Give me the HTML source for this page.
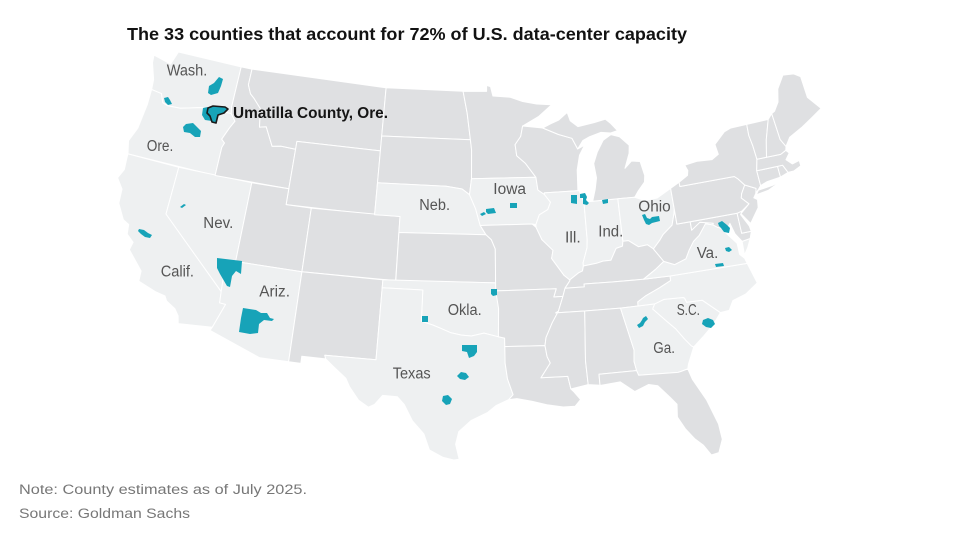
<!DOCTYPE html>
<html><head><meta charset="utf-8"><style>
html,body{margin:0;padding:0;background:#fff;}
svg{display:block;}
text{font-family:"Liberation Sans",Arial,sans-serif;}
</style></head><body>
<svg id="m" width="963" height="540" viewBox="0 0 963 540" xmlns="http://www.w3.org/2000/svg">
<rect width="963" height="540" fill="#fff"/>
<g id="st" stroke="#ffffff" stroke-width="1" stroke-linejoin="round"></g>
<g id="cty" fill="#17a3b8">
<polygon points="219,77 223,79 221,86 218,93 211,95 208,93 209,86 214,83"/>
<polygon points="164,98 168,97 170,100 172,104 168,105 165,102"/>
<polygon points="203,108 208,107 207,113 210,116 212,121 205,120 202,115"/>
<polygon points="186,124 193,123 197,127 201,131 200,137 195,137 190,133 184,132 183,127"/>
<polygon points="180,207 184,204 186,205 182,208"/>
<polygon points="139,229 144,230 148,233 152,235 150,238 145,237 141,234 138,231"/>
<polygon points="217,258 242,261 241,274 236,271 232,276 230,287 227,286 220,274 217,268"/>
<polygon points="243,308 256,310 261,313 267,313 270,318 274,319 272,321 264,320 259,324 258,333 250,334 239,332 241,318"/>
<polygon points="422,316 428,316 428,322 422,322"/>
<polygon points="491,289 497,289 497,295 493,296 491,294"/>
<polygon points="462,345 477,345 477,352 474,356 469,358 467,352 462,351"/>
<polygon points="457,376 461,372 466,373 469,377 465,380 460,379"/>
<polygon points="443,396 448,395 452,399 450,404 446,405 442,401"/>
<polygon points="480,214 484,212 486,214 482,216"/>
<polygon points="486,209 494,208 496,213 488,214 486,212"/>
<polygon points="510,203 517,203 517,208 510,208"/>
<polygon points="571,195 577,195 577,204 571,203"/>
<polygon points="580,194 585,193 587,197 586,200 589,203 587,205 583,204 583,198 580,198"/>
<polygon points="602,200 608,199 608,203 603,204"/>
<polygon points="642,215 645,214 647,218 650,219 652,217 659,216 660,221 652,223 649,225 646,224 644,220"/>
<polygon points="718,223 722,221 727,225 730,228 729,233 724,232 721,228 719,226"/>
<polygon points="725,248 729,247 732,250 729,252 726,251"/>
<polygon points="715,264 723,263 724,266 716,267"/>
<polygon points="643,318 646,316 648,319 645,322 643,326 639,328 637,325 640,323 642,320"/>
<polygon points="703,320 708,318 713,320 715,324 711,328 706,327 702,324"/>
<polygon points="208,108 213,106 225,107 228,109 224,113 218,115 216,123 212,122 210,116 207,113" stroke="#1a1a1a" stroke-width="1.6" stroke-linejoin="round"/>
</g>
<g fill="#555" font-size="15.5">
<text x="166.7" y="75.7" textLength="40.6" lengthAdjust="spacingAndGlyphs">Wash.</text>
<text x="146.7" y="151" textLength="26.6" lengthAdjust="spacingAndGlyphs">Ore.</text>
<text x="203.3" y="228" textLength="30" lengthAdjust="spacingAndGlyphs">Nev.</text>
<text x="160.7" y="276.5" textLength="33.3" lengthAdjust="spacingAndGlyphs">Calif.</text>
<text x="259.3" y="296.5" textLength="30.7" lengthAdjust="spacingAndGlyphs">Ariz.</text>
<text x="419.3" y="210" textLength="30.7" lengthAdjust="spacingAndGlyphs">Neb.</text>
<text x="493.3" y="194" textLength="32.7" lengthAdjust="spacingAndGlyphs">Iowa</text>
<text x="565" y="242.5" textLength="15.7" lengthAdjust="spacingAndGlyphs">Ill.</text>
<text x="598.3" y="236.5" textLength="25" lengthAdjust="spacingAndGlyphs">Ind.</text>
<text x="638.3" y="211.5" textLength="32.4" lengthAdjust="spacingAndGlyphs">Ohio</text>
<text x="696.7" y="258" textLength="21.6" lengthAdjust="spacingAndGlyphs">Va.</text>
<text x="447.7" y="315" textLength="34" lengthAdjust="spacingAndGlyphs">Okla.</text>
<text x="392.7" y="378.5" textLength="38" lengthAdjust="spacingAndGlyphs">Texas</text>
<text x="676.7" y="315" textLength="23.3" lengthAdjust="spacingAndGlyphs">S.C.</text>
<text x="653.3" y="353" textLength="21.7" lengthAdjust="spacingAndGlyphs">Ga.</text>
</g>
<text x="233" y="118" font-size="16" font-weight="bold" fill="#151515" textLength="155" lengthAdjust="spacingAndGlyphs">Umatilla County, Ore.</text>
<text x="127" y="40" font-size="17.5" font-weight="bold" fill="#121212" textLength="560" lengthAdjust="spacingAndGlyphs">The 33 counties that account for 72% of U.S. data-center capacity</text>
<text x="19" y="494" font-size="13.5" fill="#777" textLength="288" lengthAdjust="spacingAndGlyphs">Note: County estimates as of July 2025.</text>
<text x="19" y="518" font-size="13.5" fill="#777" textLength="171" lengthAdjust="spacingAndGlyphs">Source: Goldman Sachs</text>
</svg>
<script>
(function(){
var S={
WA:[[[-124.73,48.38],[-123.1,48.12],[-122.75,48.99],[-117.03,49.0],[-117.03,46.43],[-116.92,45.99],[-118.98,46.0],[-119.6,45.93],[-121.2,45.6],[-122.3,45.55],[-122.76,45.65],[-123.1,46.18],[-124.0,46.26],[-124.1,46.9],[-124.65,47.9]]],
OR:[[[-124.0,46.26],[-123.1,46.18],[-122.76,45.65],[-122.3,45.55],[-121.2,45.6],[-119.6,45.93],[-118.98,46.0],[-116.92,45.99],[-116.47,45.57],[-116.78,45.1],[-117.2,44.3],[-116.9,44.1],[-117.03,43.8],[-117.03,42.0],[-124.21,42.0],[-124.5,42.8],[-124.1,43.7],[-123.95,45.3]]],
CA:[[[-124.21,42.0],[-120.0,42.0],[-120.0,39.0],[-114.63,35.0],[-114.57,34.3],[-114.13,34.27],[-114.72,32.72],[-117.12,32.53],[-117.25,33.0],[-117.6,33.4],[-118.3,33.75],[-118.5,34.03],[-119.2,34.15],[-120.6,34.55],[-120.64,35.2],[-121.9,36.3],[-121.8,36.8],[-122.4,37.2],[-122.5,37.8],[-123.0,38.0],[-123.7,38.9],[-123.8,39.8],[-124.4,40.4],[-124.1,41.0],[-124.2,41.8]]],
NV:[[[-120.0,42.0],[-114.04,42.0],[-114.04,36.2],[-114.7,36.1],[-114.63,35.0],[-120.0,39.0]]],
ID:[[[-117.03,49.0],[-116.05,49.0],[-116.05,47.98],[-115.7,47.45],[-115.3,47.2],[-114.6,46.65],[-114.35,45.5],[-113.8,45.6],[-113.0,44.45],[-112.3,44.55],[-111.05,44.5],[-111.05,42.0],[-117.03,42.0],[-117.03,43.8],[-116.9,44.1],[-117.2,44.3],[-116.78,45.1],[-116.47,45.57],[-116.92,45.99],[-117.03,46.43]]],
MT:[[[-116.05,49.0],[-104.05,49.0],[-104.05,45.0],[-111.05,45.0],[-111.05,44.5],[-112.3,44.55],[-113.0,44.45],[-113.8,45.6],[-114.35,45.5],[-114.6,46.65],[-115.3,47.2],[-115.7,47.45],[-116.05,47.98]]],
WY:[[[-111.05,45.0],[-104.05,45.0],[-104.05,41.0],[-111.05,41.0]]],
UT:[[[-114.04,42.0],[-111.05,42.0],[-111.05,41.0],[-109.05,41.0],[-109.05,37.0],[-114.04,37.0]]],
AZ:[[[-114.04,37.0],[-109.05,37.0],[-109.05,31.33],[-111.07,31.33],[-114.82,32.5],[-114.72,32.72],[-114.13,34.27],[-114.57,34.3],[-114.63,35.0],[-114.7,36.1],[-114.04,36.2]]],
CO:[[[-109.05,41.0],[-102.05,41.0],[-102.05,37.0],[-109.05,37.0]]],
NM:[[[-109.05,37.0],[-103.0,37.0],[-103.0,36.5],[-103.04,32.0],[-106.62,32.0],[-106.53,31.78],[-108.2,31.78],[-108.2,31.33],[-109.05,31.33]]],
ND:[[[-104.05,49.0],[-97.23,49.0],[-96.85,47.6],[-96.56,45.94],[-104.05,45.94]]],
SD:[[[-104.05,45.94],[-96.56,45.94],[-96.45,45.3],[-96.45,43.5],[-96.6,42.5],[-97.2,42.85],[-98.5,43.0],[-104.05,43.0]]],
NE:[[[-104.05,43.0],[-98.5,43.0],[-97.2,42.85],[-96.6,42.5],[-96.1,41.6],[-95.9,41.0],[-95.75,40.58],[-95.3,40.0],[-102.05,40.0],[-102.05,41.0],[-104.05,41.0]]],
KS:[[[-102.05,40.0],[-95.3,40.0],[-94.9,39.7],[-94.6,39.1],[-94.62,37.0],[-102.04,37.0]]],
OK:[[[-103.0,37.0],[-94.62,37.0],[-94.43,35.4],[-94.48,33.64],[-95.5,33.88],[-96.4,33.7],[-97.1,33.75],[-97.9,33.9],[-98.6,34.15],[-99.2,34.35],[-99.8,34.5],[-100.0,34.56],[-100.0,36.5],[-103.0,36.5]]],
TX:[[[-106.62,32.0],[-103.04,32.0],[-103.0,36.5],[-100.0,36.5],[-100.0,34.56],[-99.8,34.5],[-99.2,34.35],[-98.6,34.15],[-97.9,33.9],[-97.1,33.75],[-96.4,33.7],[-95.5,33.88],[-94.48,33.64],[-94.04,33.55],[-94.04,32.0],[-93.9,31.0],[-93.55,30.0],[-93.85,29.7],[-94.7,29.35],[-95.3,28.9],[-96.4,28.4],[-97.2,27.7],[-97.4,26.9],[-97.15,25.95],[-97.5,25.9],[-98.2,26.05],[-99.1,26.5],[-99.5,27.5],[-100.3,28.3],[-100.9,29.3],[-101.4,29.77],[-102.4,29.8],[-102.9,29.2],[-103.3,29.0],[-104.0,29.4],[-104.7,30.2],[-105.0,30.7],[-106.0,31.4],[-106.53,31.78]]],
MN:[[[-97.23,49.0],[-95.15,49.0],[-95.15,49.38],[-94.8,49.3],[-94.6,48.7],[-93.1,48.6],[-92.0,48.3],[-90.8,48.1],[-89.5,48.0],[-90.7,47.3],[-92.1,46.75],[-92.3,46.1],[-92.8,45.6],[-92.7,44.9],[-92.0,44.4],[-91.2,43.5],[-96.45,43.5],[-96.45,45.3],[-96.56,45.94],[-96.85,47.6]]],
IA:[[[-96.45,43.5],[-91.2,43.5],[-91.1,42.7],[-90.6,42.4],[-90.15,41.9],[-90.4,41.45],[-91.1,41.15],[-91.4,40.55],[-91.7,40.6],[-95.75,40.58],[-95.9,41.0],[-96.1,41.6],[-96.6,42.5]]],
MO:[[[-95.75,40.58],[-91.7,40.6],[-91.4,40.38],[-91.0,39.6],[-90.2,38.9],[-90.35,38.4],[-89.5,37.3],[-89.1,37.0],[-89.1,36.95],[-89.5,36.5],[-89.7,36.0],[-90.37,36.0],[-90.15,36.5],[-94.62,36.5],[-94.62,37.0],[-94.6,39.1],[-94.9,39.7],[-95.3,40.0]]],
AR:[[[-94.62,36.5],[-90.15,36.5],[-90.37,36.0],[-89.7,36.0],[-90.1,35.1],[-90.6,34.4],[-91.1,33.5],[-91.2,33.0],[-94.04,33.02],[-94.04,33.55],[-94.48,33.64],[-94.43,35.4]]],
LA:[[[-94.04,33.02],[-91.2,33.0],[-91.1,32.3],[-90.9,31.9],[-91.6,31.0],[-89.75,31.0],[-89.6,30.2],[-89.4,30.0],[-89.0,29.5],[-89.4,29.1],[-90.2,29.1],[-91.3,29.3],[-92.3,29.55],[-93.3,29.75],[-93.85,29.7],[-93.55,30.0],[-93.9,31.0],[-94.04,32.0]]],
WI:[[[-92.1,46.75],[-90.4,46.57],[-89.1,46.1],[-88.0,45.8],[-87.6,45.1],[-87.0,45.3],[-87.5,44.7],[-87.8,43.8],[-87.9,42.5],[-90.6,42.5],[-90.6,42.4],[-91.1,42.7],[-91.2,43.5],[-92.0,44.4],[-92.7,44.9],[-92.8,45.6],[-92.3,46.1]]],
IL:[[[-90.6,42.5],[-87.8,42.5],[-87.5,41.7],[-87.53,39.4],[-87.6,38.9],[-88.0,38.0],[-88.0,37.8],[-88.1,37.5],[-88.4,37.4],[-89.1,37.0],[-89.5,37.3],[-90.35,38.4],[-90.2,38.9],[-91.0,39.6],[-91.4,40.38],[-91.4,40.55],[-91.1,41.15],[-90.4,41.45],[-90.15,41.9],[-90.6,42.4]]],
IN:[[[-87.5,41.76],[-84.8,41.76],[-84.82,39.1],[-84.9,38.8],[-85.4,38.7],[-85.9,38.0],[-86.5,38.0],[-87.0,37.9],[-88.0,37.8],[-88.0,38.0],[-87.6,38.9],[-87.53,39.4],[-87.5,41.7]]],
MI:[[[-86.8,41.76],[-84.8,41.76],[-83.45,41.73],[-83.1,42.1],[-82.5,42.6],[-82.4,43.0],[-82.6,43.9],[-83.3,44.0],[-83.9,43.6],[-83.4,44.5],[-83.3,45.0],[-84.0,45.6],[-84.7,45.8],[-85.4,45.5],[-86.0,44.8],[-86.4,44.1],[-86.3,43.2],[-86.5,42.5]],
 [[-90.4,46.57],[-89.1,46.1],[-88.0,45.8],[-87.6,45.1],[-87.1,45.6],[-86.5,45.8],[-85.5,46.0],[-84.7,45.9],[-84.1,46.0],[-84.6,46.5],[-85.0,46.8],[-86.0,46.65],[-87.4,46.5],[-88.0,46.9],[-88.2,47.45],[-89.0,47.0],[-89.7,46.8]]],
OH:[[[-84.8,41.76],[-83.45,41.73],[-82.7,41.45],[-81.7,41.5],[-80.52,41.98],[-80.52,40.64],[-80.6,40.4],[-80.9,39.7],[-81.7,39.2],[-82.0,38.9],[-82.6,38.4],[-83.0,38.7],[-83.7,38.65],[-84.4,39.1],[-84.82,39.1]]],
KY:[[[-84.82,39.1],[-84.4,39.1],[-83.7,38.65],[-83.0,38.7],[-82.6,38.4],[-81.97,37.54],[-82.7,37.1],[-83.67,36.6],[-86.0,36.65],[-88.07,36.68],[-88.07,36.5],[-89.5,36.5],[-89.1,36.95],[-89.1,37.0],[-88.4,37.4],[-88.1,37.5],[-88.0,37.8],[-87.0,37.9],[-86.5,38.0],[-85.9,38.0],[-85.4,38.7],[-84.9,38.8]]],
TN:[[[-81.68,36.59],[-83.67,36.6],[-86.0,36.65],[-88.07,36.68],[-88.07,36.5],[-89.5,36.5],[-89.7,36.0],[-90.1,35.1],[-90.3,35.0],[-88.2,35.0],[-85.6,34.98],[-84.32,34.99],[-84.3,35.25],[-83.7,35.55],[-82.6,35.95],[-81.7,36.3]]],
MS:[[[-90.3,35.0],[-88.2,35.0],[-88.45,31.9],[-88.4,30.4],[-89.6,30.2],[-89.75,31.0],[-91.6,31.0],[-90.9,31.9],[-91.1,32.3],[-91.2,33.0],[-91.1,33.5],[-90.6,34.4],[-90.1,35.1]]],
AL:[[[-88.2,35.0],[-85.6,34.98],[-85.0,32.3],[-85.1,31.6],[-85.0,31.0],[-87.6,31.0],[-87.6,30.3],[-88.4,30.4],[-88.45,31.9]]],
GA:[[[-85.6,34.98],[-84.32,34.99],[-83.1,35.0],[-83.3,34.7],[-82.4,33.8],[-81.9,33.3],[-81.4,32.6],[-81.0,32.1],[-80.85,32.0],[-81.4,31.0],[-81.5,30.7],[-82.0,30.6],[-82.2,30.57],[-84.9,30.7],[-85.0,31.0],[-85.1,31.6],[-85.0,32.3]]],
FL:[[[-87.6,31.0],[-85.0,31.0],[-84.9,30.7],[-82.2,30.57],[-82.0,30.6],[-81.5,30.7],[-81.3,30.0],[-80.6,28.6],[-80.1,27.0],[-80.03,26.0],[-80.4,25.2],[-80.9,25.12],[-81.3,25.8],[-81.8,26.3],[-82.3,27.0],[-82.7,27.8],[-82.6,28.6],[-83.0,29.1],[-83.7,29.9],[-84.3,30.05],[-85.3,29.7],[-86.2,30.4],[-87.5,30.3],[-87.6,30.3]]],
SC:[[[-83.1,35.0],[-82.4,35.2],[-81.0,35.15],[-80.9,35.1],[-80.8,34.82],[-79.67,34.8],[-78.55,33.85],[-79.2,33.2],[-80.0,32.6],[-80.85,32.0],[-81.0,32.1],[-81.4,32.6],[-81.9,33.3],[-82.4,33.8],[-83.3,34.7]]],
NC:[[[-75.9,36.55],[-81.68,36.59],[-81.7,36.3],[-82.6,35.95],[-83.7,35.55],[-84.3,35.25],[-84.32,34.99],[-83.1,35.0],[-82.4,35.2],[-81.0,35.15],[-80.9,35.1],[-80.8,34.82],[-79.67,34.8],[-78.55,33.85],[-77.9,33.9],[-77.5,34.45],[-76.5,34.7],[-75.5,35.25]]],
VA:[[[-75.9,36.55],[-81.68,36.59],[-83.67,36.6],[-82.7,37.1],[-81.97,37.54],[-81.2,37.25],[-80.3,37.5],[-79.95,38.0],[-79.5,38.5],[-79.0,38.8],[-78.35,39.45],[-77.8,39.3],[-77.5,39.1],[-77.1,38.95],[-77.0,38.7],[-76.3,37.9],[-76.3,37.2],[-76.0,36.9]],
 [[-75.9,37.95],[-75.25,38.03],[-75.6,37.5],[-75.95,37.1]]],
WV:[[[-80.52,40.64],[-80.52,39.72],[-79.48,39.72],[-79.48,39.2],[-78.75,39.6],[-77.75,39.4],[-77.8,39.3],[-78.35,39.45],[-79.0,38.8],[-79.5,38.5],[-79.95,38.0],[-80.3,37.5],[-81.2,37.25],[-81.97,37.54],[-82.6,38.4],[-82.0,38.9],[-81.7,39.2],[-80.9,39.7],[-80.6,40.4]]],
MD:[[[-79.48,39.72],[-75.79,39.72],[-75.79,38.45],[-75.05,38.45],[-75.25,38.03],[-75.9,37.95],[-76.3,38.5],[-76.5,39.2],[-77.0,38.7],[-77.1,38.95],[-77.5,39.1],[-77.8,39.3],[-77.75,39.4],[-78.75,39.6],[-79.48,39.2]]],
DE:[[[-75.79,39.72],[-75.4,39.8],[-75.55,39.6],[-75.1,38.8],[-75.05,38.45],[-75.79,38.45]]],
PA:[[[-80.52,41.98],[-79.76,42.27],[-79.76,42.0],[-75.35,42.0],[-75.1,41.8],[-74.7,41.35],[-75.1,40.85],[-75.2,40.6],[-74.72,40.15],[-75.4,39.8],[-75.79,39.72],[-80.52,39.72]]],
NJ:[[[-74.7,41.35],[-73.9,40.99],[-74.0,40.7],[-74.25,40.45],[-74.0,40.3],[-74.1,39.8],[-74.6,39.3],[-74.95,38.93],[-75.5,39.65],[-74.72,40.15],[-75.2,40.6],[-75.1,40.85]]],
NY:[[[-79.76,42.0],[-79.76,42.27],[-79.0,42.6],[-78.9,42.9],[-79.06,43.26],[-78.0,43.37],[-76.8,43.3],[-76.2,43.55],[-76.3,44.2],[-75.3,44.85],[-74.7,45.0],[-73.34,45.01],[-73.4,44.3],[-73.3,43.6],[-73.25,42.75],[-73.5,42.05],[-73.49,41.1],[-73.75,40.88],[-74.0,40.7],[-73.9,40.99],[-74.7,41.35],[-75.1,41.8],[-75.35,42.0]],
 [[-74.0,40.6],[-73.0,40.7],[-71.9,41.07],[-72.6,40.95],[-73.75,40.85]]],
CT:[[[-73.49,41.1],[-73.5,42.05],[-71.8,42.02],[-71.8,41.33],[-72.9,41.25]]],
RI:[[[-71.8,42.02],[-71.38,42.02],[-71.12,41.5],[-71.8,41.33]]],
MA:[[[-73.5,42.05],[-73.25,42.75],[-72.46,42.73],[-71.3,42.7],[-70.8,42.87],[-70.6,42.65],[-71.0,42.3],[-70.6,41.95],[-70.0,42.05],[-70.0,41.7],[-70.65,41.5],[-71.12,41.5],[-71.38,42.02],[-71.8,42.02]]],
VT:[[[-73.25,42.75],[-72.46,42.73],[-72.1,43.8],[-71.5,45.0],[-73.34,45.01],[-73.4,44.3],[-73.3,43.6]]],
NH:[[[-72.46,42.73],[-71.3,42.7],[-70.8,42.87],[-70.7,43.1],[-71.0,43.6],[-71.08,45.3],[-71.5,45.0],[-72.1,43.8]]],
ME:[[[-71.08,45.3],[-71.0,43.6],[-70.7,43.1],[-70.2,43.6],[-69.0,44.0],[-68.0,44.4],[-67.0,44.8],[-67.8,45.7],[-67.8,47.07],[-68.3,47.35],[-69.23,47.46],[-70.0,46.7],[-70.3,45.9],[-70.8,45.4]]]
};
var light={WA:1,OR:1,CA:1,NV:1,AZ:1,TX:1,OK:1,NE:1,IA:1,IL:1,IN:1,OH:1,VA:1,NC:1,SC:1,GA:1};
var n=0.602835,C=1.35123,R=Math.PI/180;
function p(lon,lat){var rho=Math.sqrt(C-2*n*Math.sin(lat*R))/n;var th=n*(lon+96)*R;
return [(477+975*rho*Math.sin(th)).toFixed(1),(-913.6+912*rho*Math.cos(th)).toFixed(1)];}
var g=document.getElementById('st');var NS='http://www.w3.org/2000/svg';
for(var k in S){var d='';S[k].forEach(function(ring){ring.forEach(function(pt,i){var q=p(pt[0],pt[1]);d+=(i?'L':'M')+q[0]+','+q[1];});d+='Z';});
var e=document.createElementNS(NS,'path');e.setAttribute('d',d);e.setAttribute('fill',light[k]?'#eef0f1':'#dfe0e2');g.appendChild(e);}
})();
</script>
</body></html>
